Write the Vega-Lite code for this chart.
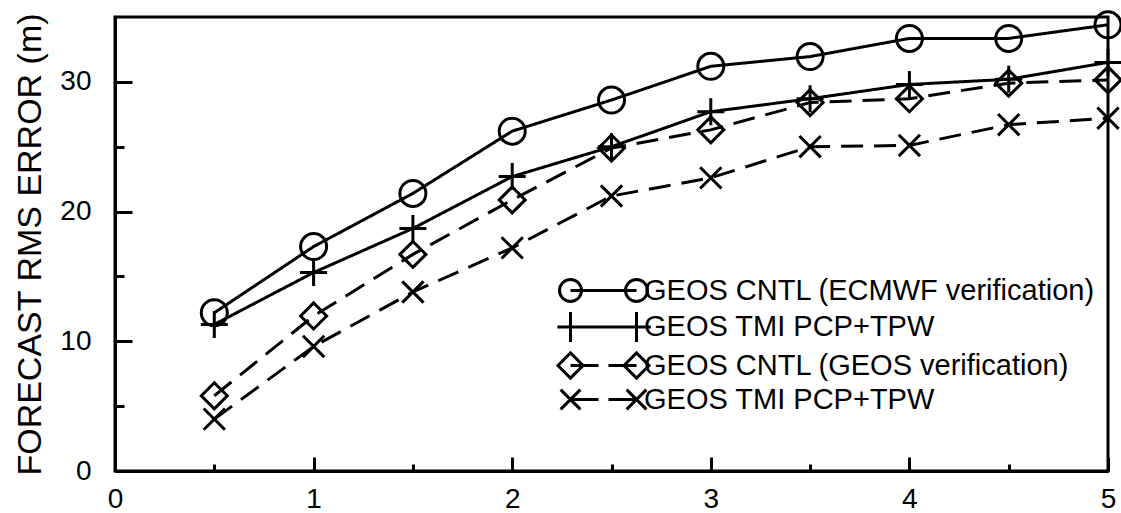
{
  "$schema": "https://vega.github.io/schema/vega-lite/v6.json",
  "width": 993,
  "height": 454,
  "autosize": "none",
  "padding": {"left": 115, "top": 17, "right": 13, "bottom": 42},
  "background": "white",
  "config": {
    "font": "Liberation Sans",
    "view": {"stroke": "black", "strokeWidth": 3},
    "axis": {
      "domainColor": "black",
      "domainWidth": 3,
      "tickColor": "black",
      "tickWidth": 3,
      "grid": false,
      "labelColor": "black",
      "labelFont": "Liberation Sans",
      "labelFontSize": 28,
      "titleColor": "black",
      "titleFont": "Liberation Sans",
      "titleFontWeight": "normal"
    },
    "legend": {
      "labelFont": "Liberation Sans",
      "labelFontSize": 29,
      "labelColor": "black",
      "labelLimit": 0
    }
  },
  "data": {
    "values": [
      {"day": 0.5, "err": 12.2, "series": "GEOS CNTL (ECMWF verification)"},
      {"day": 1.0, "err": 17.3, "series": "GEOS CNTL (ECMWF verification)"},
      {"day": 1.5, "err": 21.4, "series": "GEOS CNTL (ECMWF verification)"},
      {"day": 2.0, "err": 26.2, "series": "GEOS CNTL (ECMWF verification)"},
      {"day": 2.5, "err": 28.6, "series": "GEOS CNTL (ECMWF verification)"},
      {"day": 3.0, "err": 31.2, "series": "GEOS CNTL (ECMWF verification)"},
      {"day": 3.5, "err": 31.95, "series": "GEOS CNTL (ECMWF verification)"},
      {"day": 4.0, "err": 33.35, "series": "GEOS CNTL (ECMWF verification)"},
      {"day": 4.5, "err": 33.35, "series": "GEOS CNTL (ECMWF verification)"},
      {"day": 5.0, "err": 34.4, "series": "GEOS CNTL (ECMWF verification)"},
      {"day": 0.5, "err": 11.3, "series": "GEOS TMI PCP+TPW (ECMWF verification)"},
      {"day": 1.0, "err": 15.3, "series": "GEOS TMI PCP+TPW (ECMWF verification)"},
      {"day": 1.5, "err": 18.7, "series": "GEOS TMI PCP+TPW (ECMWF verification)"},
      {"day": 2.0, "err": 22.7, "series": "GEOS TMI PCP+TPW (ECMWF verification)"},
      {"day": 2.5, "err": 25.0, "series": "GEOS TMI PCP+TPW (ECMWF verification)"},
      {"day": 3.0, "err": 27.7, "series": "GEOS TMI PCP+TPW (ECMWF verification)"},
      {"day": 3.5, "err": 28.7, "series": "GEOS TMI PCP+TPW (ECMWF verification)"},
      {"day": 4.0, "err": 29.8, "series": "GEOS TMI PCP+TPW (ECMWF verification)"},
      {"day": 4.5, "err": 30.2, "series": "GEOS TMI PCP+TPW (ECMWF verification)"},
      {"day": 5.0, "err": 31.5, "series": "GEOS TMI PCP+TPW (ECMWF verification)"},
      {"day": 0.5, "err": 5.8, "series": "GEOS CNTL (GEOS verification)"},
      {"day": 1.0, "err": 11.95, "series": "GEOS CNTL (GEOS verification)"},
      {"day": 1.5, "err": 16.7, "series": "GEOS CNTL (GEOS verification)"},
      {"day": 2.0, "err": 20.9, "series": "GEOS CNTL (GEOS verification)"},
      {"day": 2.5, "err": 24.9, "series": "GEOS CNTL (GEOS verification)"},
      {"day": 3.0, "err": 26.3, "series": "GEOS CNTL (GEOS verification)"},
      {"day": 3.5, "err": 28.4, "series": "GEOS CNTL (GEOS verification)"},
      {"day": 4.0, "err": 28.7, "series": "GEOS CNTL (GEOS verification)"},
      {"day": 4.5, "err": 29.9, "series": "GEOS CNTL (GEOS verification)"},
      {"day": 5.0, "err": 30.15, "series": "GEOS CNTL (GEOS verification)"},
      {"day": 0.5, "err": 4.0, "series": "GEOS TMI PCP+TPW (GEOS verification)"},
      {"day": 1.0, "err": 9.6, "series": "GEOS TMI PCP+TPW (GEOS verification)"},
      {"day": 1.5, "err": 13.8, "series": "GEOS TMI PCP+TPW (GEOS verification)"},
      {"day": 2.0, "err": 17.2, "series": "GEOS TMI PCP+TPW (GEOS verification)"},
      {"day": 2.5, "err": 21.2, "series": "GEOS TMI PCP+TPW (GEOS verification)"},
      {"day": 3.0, "err": 22.6, "series": "GEOS TMI PCP+TPW (GEOS verification)"},
      {"day": 3.5, "err": 25.0, "series": "GEOS TMI PCP+TPW (GEOS verification)"},
      {"day": 4.0, "err": 25.1, "series": "GEOS TMI PCP+TPW (GEOS verification)"},
      {"day": 4.5, "err": 26.7, "series": "GEOS TMI PCP+TPW (GEOS verification)"},
      {"day": 5.0, "err": 27.2, "series": "GEOS TMI PCP+TPW (GEOS verification)"}
    ]
  },
  "encoding": {
    "x": {
      "field": "day",
      "type": "quantitative",
      "scale": {"domain": [0, 5], "nice": false, "zero": false},
      "axis": {
        "title": null,
        "values": [0, 0.5, 1, 1.5, 2, 2.5, 3, 3.5, 4, 4.5, 5],
        "labelExpr": "datum.value % 1 === 0 ? format(datum.value, 'd') : ''",
        "tickSize": {"condition": {"test": "datum.value % 1 === 0", "value": -14}, "value": -7},
        "labelPadding": 28,
        "labelFlush": false,
        "labelOverlap": false
      }
    },
    "y": {
      "field": "err",
      "type": "quantitative",
      "scale": {"domain": [0, 35], "nice": false},
      "axis": {
        "title": "FORECAST RMS ERROR (m)",
        "titleFontSize": 34,
        "titlePadding": 12,
        "values": [0, 5, 10, 15, 20, 25, 30],
        "labelExpr": "datum.value % 10 === 0 ? format(datum.value, 'd') : ''",
        "tickSize": {"condition": {"test": "datum.value % 10 === 0", "value": -17}, "value": -9},
        "labelPadding": 41,
        "labelFlush": false,
        "labelOverlap": false
      }
    }
  },
  "resolve": {"scale": {"shape": "independent"}, "legend": {"shape": "independent"}},
  "layer": [
    {
      "mark": {"type": "line", "color": "black", "strokeWidth": 3},
      "encoding": {
        "detail": {"field": "series"},
        "strokeDash": {
          "field": "series",
          "type": "nominal",
          "scale": {
            "domain": ["GEOS CNTL (GEOS verification)", "GEOS TMI PCP+TPW (GEOS verification)", "GEOS CNTL (ECMWF verification)", "GEOS TMI PCP+TPW (ECMWF verification)"],
            "range": [[22, 11], [22, 11], [1, 0], [1, 0]]
          },
          "legend": null
        }
      }
    },
    {
      "mark": {"type": "point", "filled": false, "color": "black", "strokeWidth": 3, "size": 676, "opacity": 1},
      "encoding": {
        "shape": {
          "field": "series",
          "type": "nominal",
          "scale": {
            "domain": ["GEOS TMI PCP+TPW (GEOS verification)", "GEOS CNTL (GEOS verification)", "GEOS TMI PCP+TPW (ECMWF verification)", "GEOS CNTL (ECMWF verification)"],
            "range": ["M-0.82,-0.82L0.82,0.82M-0.82,0.82L0.82,-0.82", "diamond", "M-1.04,0L1.04,0M0,-1.04L0,1.04", "circle"]
          },
          "legend": null
        }
      }
    },
    {
      "mark": {"type": "point", "filled": false, "color": "black", "strokeWidth": 3, "size": 0},
      "encoding": {
        "shape": {
          "field": "series",
          "type": "nominal",
          "scale": {
            "domain": ["GEOS CNTL (ECMWF verification)", "GEOS TMI PCP+TPW (ECMWF verification)", "GEOS CNTL (GEOS verification)", "GEOS TMI PCP+TPW (GEOS verification)"],
            "range": [
              "M-2,0A1,1,0,1,1,-4,0A1,1,0,1,1,-2,0M4,0A1,1,0,1,1,2,0A1,1,0,1,1,4,0M-3,0L3,0",
              "M-4.2,0L4.3,0M-3,-1.36L-3,1.36M3,-1.36L3,1.36",
              "M-4.14,0L-3,-1.14L-1.86,0L-3,1.14ZM1.86,0L3,-1.14L4.14,0L3,1.14ZM-3,0L-0.45,0M0.45,0L3,0",
              "M-3.9,-0.9L-2.1,0.9M-3.9,0.9L-2.1,-0.9M2.1,-0.9L3.9,0.9M2.1,0.9L3.9,-0.9M-3,0L-0.45,0M0.45,0L3,0"
            ]
          },
          "legend": {
            "title": null,
            "orient": "none",
            "legendX": 474,
            "legendY": 259,
            "symbolSize": 484,
            "symbolStrokeWidth": 3,
            "symbolStrokeColor": "black",
            "symbolFillColor": "transparent",
            "symbolOpacity": 1,
            "labelOffset": 26,
            "rowPadding": -2.5,
            "padding": 0,
            "labelExpr": "indexof(datum.label, 'TMI') >= 0 ? 'GEOS TMI PCP+TPW' : datum.label"
          }
        }
      }
    }
  ]
}
